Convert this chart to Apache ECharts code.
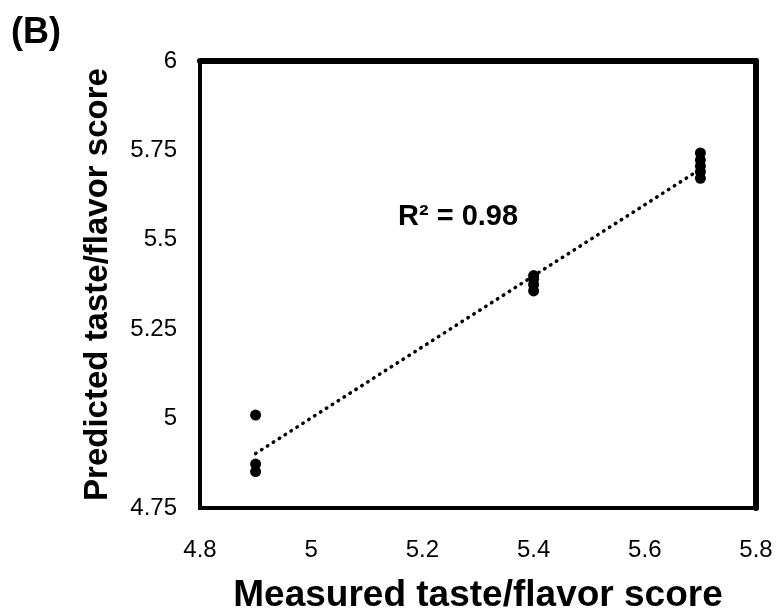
<!DOCTYPE html>
<html>
<head>
<meta charset="utf-8">
<script src="https://cdn.jsdelivr.net/npm/echarts@6/dist/echarts.min.js"></script>
<style>
html,body{margin:0;padding:0;background:#fff;}
#chart{width:781px;height:611px;}
</style>
</head>
<body>
<div id="chart"></div>
<script>
// Measured (x) and predicted (y) taste/flavor scores
const measured  = [4.9, 4.9, 4.9, 5.4, 5.4, 5.4, 5.4, 5.7, 5.7, 5.7, 5.7, 5.7];
const predicted = [5.01, 4.873, 4.852, 5.40, 5.39, 5.375, 5.357, 5.743, 5.723, 5.706, 5.69, 5.672];
const xTicks = [4.8, 5, 5.2, 5.4, 5.6, 5.8];
const yTicks = [4.75, 5, 5.25, 5.5, 5.75, 6];
const r2Label = 'R² = 0.98';

// least-squares trendline over the data range
const n = measured.length;
const mx = measured.reduce((a, b) => a + b, 0) / n;
const my = predicted.reduce((a, b) => a + b, 0) / n;
let sxy = 0, sxx = 0;
for (let i = 0; i < n; i++) { sxy += (measured[i] - mx) * (predicted[i] - my); sxx += (measured[i] - mx) ** 2; }
const slope = sxy / sxx, icpt = my - slope * mx;
const xmin = Math.min(...measured), xmax = Math.max(...measured);
const trend = [[xmin, icpt + slope * xmin], [xmax, icpt + slope * xmax]];

const chart = echarts.init(document.getElementById('chart'));
const font = 'Liberation Sans, Arial, sans-serif';
chart.setOption({
  animation: false,
  grid: { left: 200, right: 25, top: 61, bottom: 103, show: true, borderColor: '#000', borderWidth: 4, outerBoundsMode: 'none', containLabel: false },
  xAxis: [{
    type: 'value', min: xTicks[0], max: xTicks[xTicks.length - 1], interval: 0.2,
    name: 'Measured taste/flavor score', nameLocation: 'middle', nameGap: 69,
    nameTextStyle: { fontFamily: font, fontSize: 37, fontWeight: 'bold', color: '#000' },
    axisLine: { show: true, lineStyle: { color: '#000', width: 4 } },
    axisTick: { show: false }, splitLine: { show: false },
    axisLabel: { fontFamily: font, fontSize: 24, color: '#000', margin: 30 }
  }, {
    type: 'value', position: 'top', min: xTicks[0], max: xTicks[xTicks.length - 1],
    axisLine: { show: true, onZero: false, lineStyle: { color: '#000', width: 6 } },
    axisTick: { show: false }, axisLabel: { show: false }, splitLine: { show: false }
  }],
  yAxis: [{
    type: 'value', min: yTicks[0], max: yTicks[yTicks.length - 1], interval: 0.25,
    name: 'Predicted taste/flavor score', nameLocation: 'middle', nameGap: 86, nameRotate: 90,
    nameTextStyle: { fontFamily: font, fontSize: 33, fontWeight: 'bold', color: '#000' },
    axisLine: { show: true, lineStyle: { color: '#000', width: 4 } },
    axisTick: { show: false }, splitLine: { show: false },
    axisLabel: { fontFamily: font, fontSize: 24, color: '#000', margin: 23 }
  }, {
    type: 'value', position: 'right', min: yTicks[0], max: yTicks[yTicks.length - 1],
    axisLine: { show: true, onZero: false, lineStyle: { color: '#000', width: 6 } },
    axisTick: { show: false }, axisLabel: { show: false }, splitLine: { show: false }
  }],
  graphic: [
    { type: 'text', left: 11, top: 15, style: { text: '(B)', fontFamily: font, fontSize: 36, fontWeight: 'bold', fill: '#000' } },
    { type: 'text', left: 398, top: 202, style: { text: r2Label, fontFamily: font, fontSize: 29, fontWeight: 'bold', fill: '#000' } }
  ],
  series: [{
    type: 'line', data: trend, symbol: 'none', silent: true, z: 1,
    lineStyle: { color: '#000', width: 3.5, type: [0.5, 6.5], cap: 'round' }
  }, {
    type: 'scatter', data: measured.map((x, i) => [x, predicted[i]]),
    symbol: 'circle', symbolSize: 11, itemStyle: { color: '#000', opacity: 1 }, z: 3
  }]
});
</script>
</body>
</html>
